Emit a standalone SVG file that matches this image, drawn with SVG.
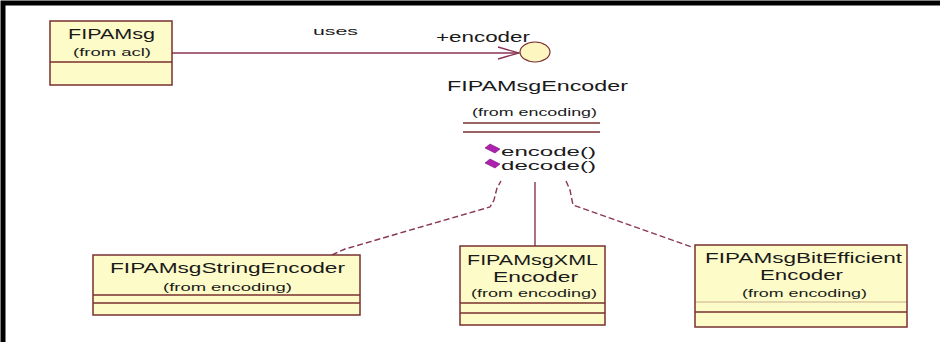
<svg xmlns="http://www.w3.org/2000/svg" width="940" height="342" viewBox="0 0 940 342">
<style>
.box{fill:#fdfbc8;stroke:#7a3030;stroke-width:1.5}
.div{stroke:#7a3030;stroke-width:1.5}
.t{font-family:"Liberation Sans",Arial,sans-serif;font-size:14px;fill:#1a1a1a}
.s{font-family:"Liberation Sans",Arial,sans-serif;font-size:11px;fill:#1a1a1a}
.m{font-family:"Liberation Sans",Arial,sans-serif;font-size:12.5px;fill:#1a1a1a}
.c{fill:none;stroke:#8a3555;stroke-width:1.4}
.d{fill:none;stroke:#8a3555;stroke-width:1.4;stroke-dasharray:6 3}
.op{fill:#b020b0;stroke:#701070;stroke-width:0.6}
</style>
<rect x="0" y="0" width="940" height="342" fill="#ffffff"/>
<path d="M3 342 V3 H940" fill="none" stroke="#000" stroke-width="5"/>

<g id="connectors">
  <line class="c" x1="172" y1="53" x2="519" y2="53"/>
  <polyline class="c" points="498,47 519,53 498,59"/>
  <polyline class="d" points="332,255 345,249 490,207 494,200 497,188 501,181"/>
  <line class="c" x1="535" y1="182" x2="535" y2="246"/>
  <polyline class="d" points="566,181 570,190 573,205 692,247"/>
</g>

<g id="FIPAMsg">
  <rect class="box" x="50" y="21" width="122" height="64"/>
  <line class="div" x1="50" y1="62" x2="172" y2="62"/>
  <text class="t" x="68" y="39" textLength="87" lengthAdjust="spacingAndGlyphs">FIPAMsg</text>
  <text class="s" x="73" y="56" textLength="78" lengthAdjust="spacingAndGlyphs">(from acl)</text>
</g>

<g id="uses-label">
  <text class="s" x="313" y="35" textLength="45" lengthAdjust="spacingAndGlyphs">uses</text>
</g>

<g id="FIPAMsgEncoder">
  <ellipse cx="535" cy="52" rx="15" ry="10" fill="#fdf6c0" stroke="#7a3030" stroke-width="1.2"/>
  <text class="t" x="436" y="42" textLength="94" lengthAdjust="spacingAndGlyphs">+encoder</text>
  <text class="t" x="447" y="91" textLength="181" lengthAdjust="spacingAndGlyphs">FIPAMsgEncoder</text>
  <text class="s" x="472" y="116" textLength="125" lengthAdjust="spacingAndGlyphs">(from encoding)</text>
  <line class="div" x1="463" y1="123" x2="600" y2="123"/>
  <line class="div" x1="463" y1="132" x2="600" y2="132"/>
  <path class="op" d="M485 148 L490 144 L500 149 L495 153 Z"/>
  <text class="m" x="501" y="156" textLength="95" lengthAdjust="spacingAndGlyphs">encode()</text>
  <path class="op" d="M485 163 L490 159 L500 164 L495 168 Z"/>
  <text class="m" x="501" y="170" textLength="95" lengthAdjust="spacingAndGlyphs">decode()</text>
</g>

<g id="FIPAMsgStringEncoder">
  <rect class="box" x="93" y="255" width="267" height="60"/>
  <line class="div" x1="93" y1="295" x2="360" y2="295"/>
  <line class="div" x1="93" y1="303" x2="360" y2="303"/>
  <text class="t" x="110" y="273" textLength="235" lengthAdjust="spacingAndGlyphs">FIPAMsgStringEncoder</text>
  <text class="s" x="163" y="291" textLength="129" lengthAdjust="spacingAndGlyphs">(from encoding)</text>
</g>

<g id="FIPAMsgXMLEncoder">
  <rect class="box" x="460" y="246" width="145" height="79"/>
  <line class="div" x1="460" y1="303" x2="605" y2="303"/>
  <line class="div" x1="460" y1="313" x2="605" y2="313"/>
  <text class="t" x="467" y="265" textLength="131" lengthAdjust="spacingAndGlyphs">FIPAMsgXML</text>
  <text class="t" x="493" y="282" textLength="85" lengthAdjust="spacingAndGlyphs">Encoder</text>
  <text class="s" x="471" y="297" textLength="126" lengthAdjust="spacingAndGlyphs">(from encoding)</text>
</g>

<g id="FIPAMsgBitEfficientEncoder">
  <rect class="box" x="695" y="245" width="212" height="82"/>
  <line class="div" x1="695" y1="302" x2="907" y2="302" stroke-opacity="0.25"/>
  <line class="div" x1="695" y1="312" x2="907" y2="312"/>
  <text class="t" x="705" y="263" textLength="197" lengthAdjust="spacingAndGlyphs">FIPAMsgBitEfficient</text>
  <text class="t" x="760" y="280" textLength="83" lengthAdjust="spacingAndGlyphs">Encoder</text>
  <text class="s" x="742" y="297" textLength="125" lengthAdjust="spacingAndGlyphs">(from encoding)</text>
</g>
</svg>
